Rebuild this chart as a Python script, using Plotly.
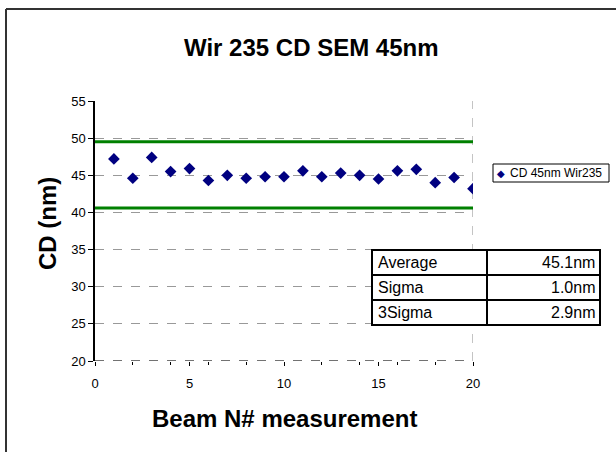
import plotly.graph_objects as go

# ---- data ----
beam = list(range(1, 21))
cd_values = [47.2, 44.6, 47.4, 45.5, 45.9, 44.3, 45.0, 44.6, 44.8, 44.8,
             45.6, 44.8, 45.3, 45.0, 44.5, 45.6, 45.8, 44.0, 44.7, 43.2]
upper_limit = 49.5
lower_limit = 40.6
series_name = "CD 45nm Wir235"
stat_labels = ["Average", "Sigma", "3Sigma"]
stat_values = ["45.1nm", "1.0nm", "2.9nm"]

W, H = 616, 452
L, R, T, B = 95, 143, 101, 91
PW, PH = W - L - R, H - T - B
FONT = "Arial, Liberation Sans, sans-serif"


def px(x):
    return (x - L) / PW


def py(y):
    return (H - B - y) / PH


fig = go.Figure()

for lim in (upper_limit, lower_limit):
    fig.add_trace(go.Scatter(x=[0, 20], y=[lim, lim], mode="lines",
                             line=dict(color="#008000", width=3),
                             showlegend=False, hoverinfo="skip"))

fig.add_trace(go.Scatter(x=beam, y=cd_values, mode="markers", name=series_name,
                         marker=dict(symbol="diamond", size=9, color="#000080"),
                         showlegend=False))

shapes = []
# outer chart frame (left and top edges visible)
shapes.append(dict(type="line", xref="paper", yref="paper",
                   x0=px(6), x1=px(6), y0=py(9), y1=py(452),
                   line=dict(color="#333333", width=2), layer="below"))
shapes.append(dict(type="line", xref="paper", yref="paper",
                   x0=px(6), x1=px(616), y0=py(9), y1=py(9),
                   line=dict(color="#333333", width=2), layer="below"))
# right border of plot area (dashed)
shapes.append(dict(type="line", xref="x", yref="y", x0=20, x1=20, y0=20, y1=55,
                   line=dict(color="#888888", width=1, dash="dash"), layer="below"))
# bottom axis (dashed dark)
shapes.append(dict(type="line", xref="x", yref="y", x0=0, x1=20, y0=20, y1=20,
                   line=dict(color="#444444", width=1.5, dash="dash"), layer="below"))

# statistics table
tx0, tx1, tcol = 372, 600, 487
ty0, rh = 250, 25
shapes.append(dict(type="rect", xref="paper", yref="paper",
                   x0=px(tx0), x1=px(tx1), y0=py(ty0), y1=py(ty0 + rh * len(stat_labels)),
                   line=dict(color="black", width=2), fillcolor="white", layer="above"))
shapes.append(dict(type="line", xref="paper", yref="paper",
                   x0=px(tcol), x1=px(tcol), y0=py(ty0), y1=py(ty0 + rh * len(stat_labels)),
                   line=dict(color="black", width=2)))
for i in range(1, len(stat_labels)):
    shapes.append(dict(type="line", xref="paper", yref="paper",
                       x0=px(tx0), x1=px(tx1), y0=py(ty0 + rh * i), y1=py(ty0 + rh * i),
                       line=dict(color="black", width=2)))

# legend box
shapes.append(dict(type="rect", xref="paper", yref="paper",
                   x0=px(493), x1=px(609), y0=py(164), y1=py(182),
                   line=dict(color="black", width=1), fillcolor="white"))

annotations = []
for i, (lab, val) in enumerate(zip(stat_labels, stat_values)):
    yc = py(ty0 + rh * i + rh / 2)
    annotations.append(dict(text=lab, xref="paper", yref="paper", x=px(376), y=yc,
                            xanchor="left", yanchor="middle", showarrow=False,
                            font=dict(family=FONT, size=16, color="black")))
    annotations.append(dict(text=val, xref="paper", yref="paper", x=px(597), y=yc,
                            xanchor="right", yanchor="middle", showarrow=False,
                            font=dict(family=FONT, size=16, color="black")))

annotations.append(dict(text="◆", xref="paper", yref="paper", x=px(501), y=py(173),
                        xanchor="center", yanchor="middle", showarrow=False,
                        font=dict(family=FONT, size=10, color="#000080")))
annotations.append(dict(text=series_name, xref="paper", yref="paper", x=px(508), y=py(173),
                        xanchor="left", yanchor="middle", showarrow=False,
                        font=dict(family=FONT, size=12, color="black")))

annotations.append(dict(text="<b>Wir 235 CD SEM 45nm</b>", xref="paper", yref="paper",
                        x=px(311), y=py(47), xanchor="center", yanchor="middle",
                        showarrow=False, font=dict(family=FONT, size=24, color="black")))
annotations.append(dict(text="<b>Beam N# measurement</b>", xref="paper", yref="paper",
                        x=px(284), y=py(418), xanchor="center", yanchor="middle",
                        showarrow=False, font=dict(family=FONT, size=24, color="black")))
annotations.append(dict(text="<b>CD (nm)</b>", xref="paper", yref="paper",
                        x=px(47), y=py(224), xanchor="center", yanchor="middle",
                        textangle=-90, showarrow=False,
                        font=dict(family=FONT, size=24, color="black")))

fig.update_layout(
    width=W, height=H,
    margin=dict(l=L, r=R, t=T, b=B, pad=0),
    paper_bgcolor="white", plot_bgcolor="white",
    showlegend=False,
    shapes=shapes, annotations=annotations,
    font=dict(family=FONT, size=13, color="black"),
    xaxis=dict(range=[0, 20], tickmode="array", tickvals=[0, 5, 10, 15, 20],
               ticks="outside", ticklen=4, tickcolor="black", showgrid=False,
               zeroline=False, showline=False, ticklabelstandoff=6,
               tickfont=dict(family=FONT, size=13, color="black"),
               minor=dict(tickmode="linear", tick0=0, dtick=2, ticks="outside",
                          ticklen=3, tickcolor="black")),
    yaxis=dict(range=[20, 55], tickmode="array",
               tickvals=[20, 25, 30, 35, 40, 45, 50, 55],
               ticks="outside", ticklen=5, tickcolor="black",
               showline=True, linecolor="black", linewidth=1.5,
               showgrid=True, gridcolor="#999999", griddash="dash", gridwidth=1,
               zeroline=False, tickfont=dict(family=FONT, size=13, color="black")),
)

fig.write_html("out.html", config={"displayModeBar": False},
               post_script="document.documentElement.style.overflow='hidden';"
                           "document.body.style.margin='0';"
                           "document.body.style.overflow='hidden';")
